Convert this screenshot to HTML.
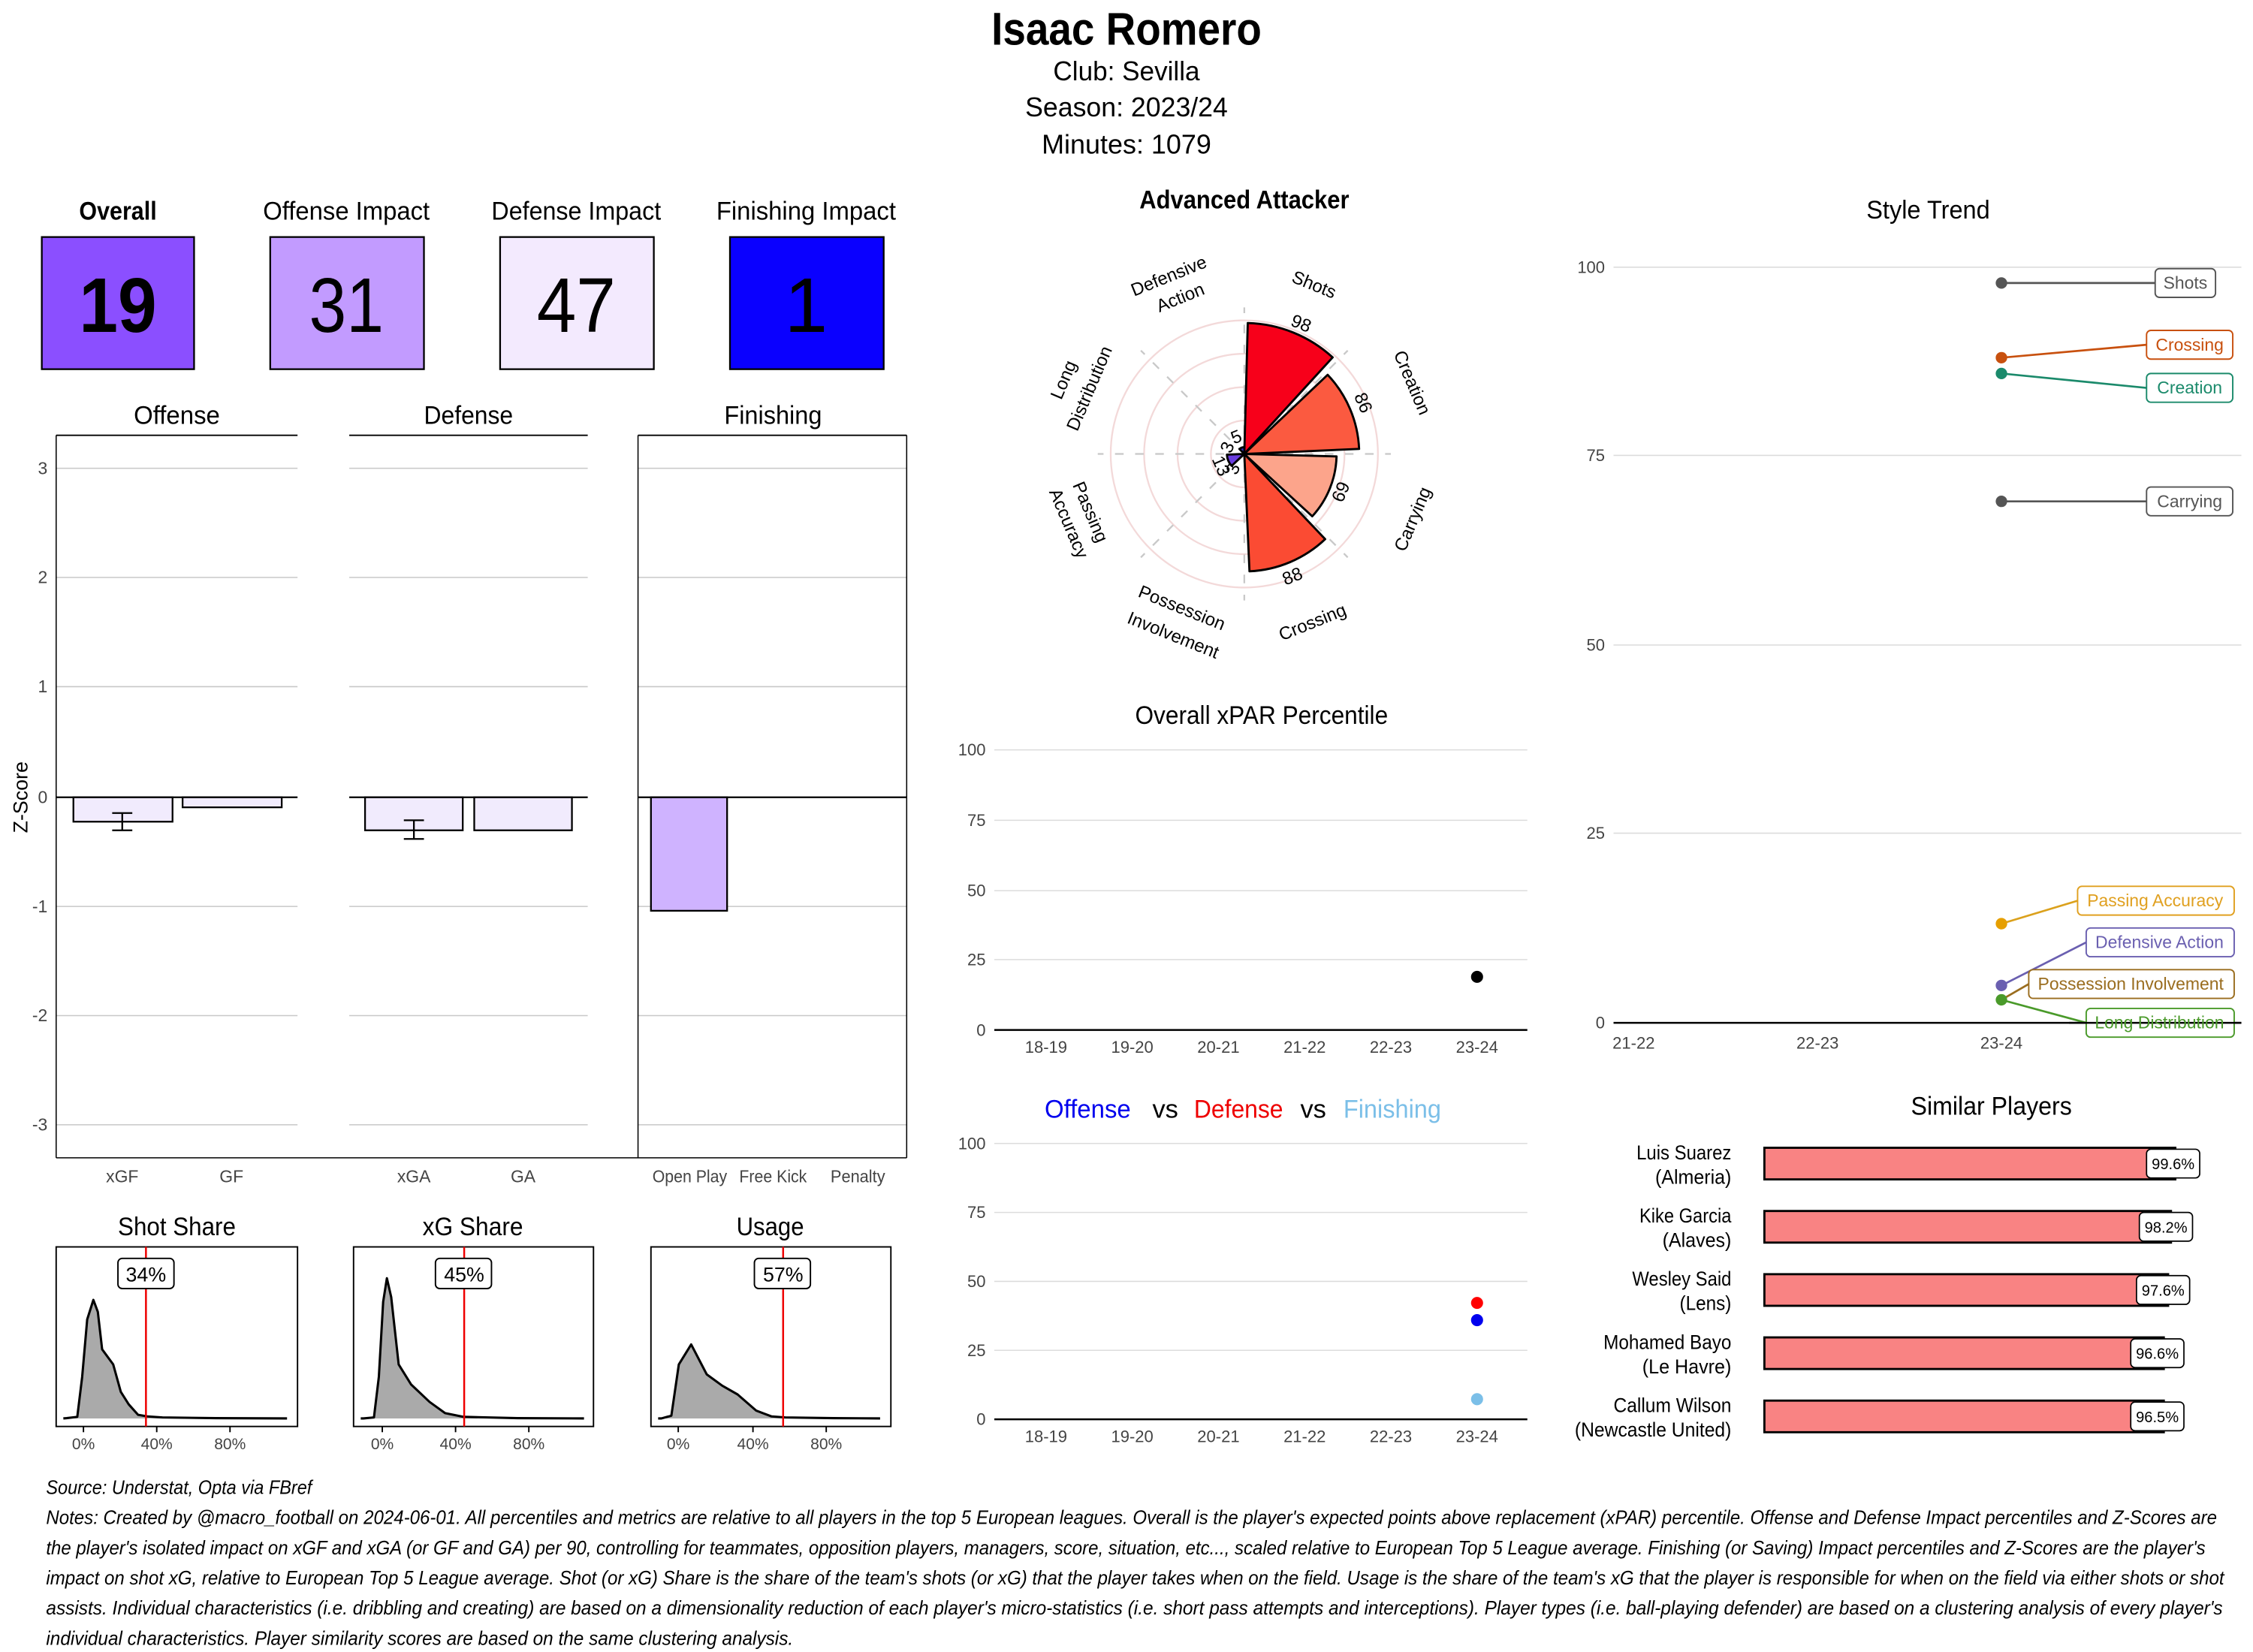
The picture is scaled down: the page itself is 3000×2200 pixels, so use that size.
<!DOCTYPE html>
<html><head><meta charset="utf-8"><style>
html,body{margin:0;padding:0;background:#fff;}
svg{display:block;}
.c{font-family:"Liberation Sans Narrow","Liberation Sans",sans-serif;}
.s{font-family:"Liberation Sans",sans-serif;}
</style></head><body>
<svg width="3000" height="2200" viewBox="0 0 1568 1150" xmlns="http://www.w3.org/2000/svg">
<rect width="1568" height="1150" fill="#fff"/>
<!-- header -->
<g class="c" text-anchor="middle" fill="#000">
<text x="784" y="31" font-size="32" font-weight="bold" textLength="188" lengthAdjust="spacingAndGlyphs">Isaac Romero</text>
<text x="784" y="56" font-size="19" textLength="102" lengthAdjust="spacingAndGlyphs">Club:  Sevilla</text>
<text x="784" y="81" font-size="19" textLength="141" lengthAdjust="spacingAndGlyphs">Season:  2023/24</text>
<text x="784" y="107" font-size="19" textLength="118" lengthAdjust="spacingAndGlyphs">Minutes:  1079</text>
<text x="82" y="153" font-size="18" font-weight="bold" textLength="54" lengthAdjust="spacingAndGlyphs">Overall</text>
<text x="241" y="153" font-size="18" textLength="116" lengthAdjust="spacingAndGlyphs">Offense Impact</text>
<text x="401" y="153" font-size="18" textLength="118" lengthAdjust="spacingAndGlyphs">Defense Impact</text>
<text x="561" y="153" font-size="18" textLength="125" lengthAdjust="spacingAndGlyphs">Finishing Impact</text>
</g>
<rect x="29" y="165" width="106" height="92" fill="#8b4fff" stroke="#000" stroke-width="1.2"/>
<rect x="188" y="165" width="107" height="92" fill="#c29bff" stroke="#000" stroke-width="1.2"/>
<rect x="348" y="165" width="107" height="92" fill="#f3eafe" stroke="#000" stroke-width="1.2"/>
<rect x="508" y="165" width="107" height="92" fill="#0a00ff" stroke="#000" stroke-width="1.2"/>
<g class="c" text-anchor="middle" font-size="54" fill="#000">
<text x="82" y="231" font-weight="bold" textLength="54" lengthAdjust="spacingAndGlyphs">19</text>
<text x="241" y="231" textLength="52" lengthAdjust="spacingAndGlyphs">31</text>
<text x="401" y="231" textLength="55" lengthAdjust="spacingAndGlyphs">47</text>
<text x="561" y="231">1</text>
</g>
<!-- z-score panels -->
<g class="c" font-size="18" text-anchor="middle">
<text x="123" y="295" textLength="60" lengthAdjust="spacingAndGlyphs">Offense</text><text x="326" y="295" textLength="62" lengthAdjust="spacingAndGlyphs">Defense</text><text x="538" y="295" textLength="68" lengthAdjust="spacingAndGlyphs">Finishing</text>
</g>
<g stroke="#c8c8c8" stroke-width="0.8">
<line x1="39" x2="207" y1="326" y2="326"/><line x1="243" x2="409" y1="326" y2="326"/><line x1="444" x2="631" y1="326" y2="326"/>
<line x1="39" x2="207" y1="402" y2="402"/><line x1="243" x2="409" y1="402" y2="402"/><line x1="444" x2="631" y1="402" y2="402"/>
<line x1="39" x2="207" y1="478" y2="478"/><line x1="243" x2="409" y1="478" y2="478"/><line x1="444" x2="631" y1="478" y2="478"/>
<line x1="39" x2="207" y1="631" y2="631"/><line x1="243" x2="409" y1="631" y2="631"/><line x1="444" x2="631" y1="631" y2="631"/>
<line x1="39" x2="207" y1="707" y2="707"/><line x1="243" x2="409" y1="707" y2="707"/><line x1="444" x2="631" y1="707" y2="707"/>
<line x1="39" x2="207" y1="783" y2="783"/><line x1="243" x2="409" y1="783" y2="783"/><line x1="444" x2="631" y1="783" y2="783"/>
</g>
<g fill="#f1ebfd" stroke="#000" stroke-width="1.2">
<rect x="51" y="555" width="69" height="17"/><rect x="127" y="555" width="69" height="7"/>
<rect x="254" y="555" width="68" height="23"/><rect x="330" y="555" width="68" height="23"/>
<rect x="453" y="555" width="53" height="79" fill="#cfb3ff"/>
</g>
<g stroke="#000" stroke-width="1.2">
<line x1="39" x2="207" y1="555" y2="555"/><line x1="243" x2="409" y1="555" y2="555"/><line x1="444" x2="631" y1="555" y2="555"/>
<line x1="85" x2="85" y1="566" y2="578"/><line x1="78" x2="92" y1="566" y2="566"/><line x1="78" x2="92" y1="578" y2="578"/>
<line x1="288" x2="288" y1="571" y2="584"/><line x1="281" x2="295" y1="571" y2="571"/><line x1="281" x2="295" y1="584" y2="584"/>
<line x1="39" x2="207" y1="303" y2="303" stroke-width="1"/><line x1="243" x2="409" y1="303" y2="303" stroke-width="1"/><line x1="444" x2="631" y1="303" y2="303" stroke-width="1"/>
<line x1="39" x2="39" y1="303" y2="806" stroke-width="0.8"/><line x1="631" x2="631" y1="303" y2="806" stroke-width="0.8"/><line x1="444" x2="444" y1="303" y2="806" stroke-width="0.8"/>
<line x1="39" x2="631" y1="806" y2="806" stroke-width="0.8"/>
</g>
<g class="c" font-size="12" fill="#444" text-anchor="end">
<text x="33" y="330">3</text><text x="33" y="406">2</text><text x="33" y="482">1</text><text x="33" y="559">0</text>
<text x="33" y="635">-1</text><text x="33" y="711">-2</text><text x="33" y="787">-3</text>
</g>
<text class="c" font-size="14" transform="translate(19,555) rotate(-90)" text-anchor="middle">Z-Score</text>
<g class="c" font-size="12" fill="#444" text-anchor="middle">
<text x="85" y="823">xGF</text><text x="161" y="823">GF</text><text x="288" y="823">xGA</text><text x="364" y="823">GA</text>
<text x="480" y="823" textLength="52" lengthAdjust="spacingAndGlyphs">Open Play</text><text x="538" y="823" textLength="47" lengthAdjust="spacingAndGlyphs">Free Kick</text><text x="597" y="823" textLength="38" lengthAdjust="spacingAndGlyphs">Penalty</text>
</g>
<!-- density panels -->
<g class="c" font-size="18" text-anchor="middle">
<text x="123" y="860" textLength="82" lengthAdjust="spacingAndGlyphs">Shot Share</text><text x="329" y="860" textLength="70" lengthAdjust="spacingAndGlyphs">xG Share</text><text x="536" y="860" textLength="47" lengthAdjust="spacingAndGlyphs">Usage</text>
</g>
<g fill="#aaa" stroke="#000" stroke-width="1.6" stroke-linejoin="round">
<path d="M44,987.4 L46.3,987.2 L53.7,986.3 L57.1,958.5 L60.6,918.5 L64.9,904.9 L68,913.2 L71,939.3 L78.7,949.8 L84,968.9 L89.5,977.6 L96,984.9 L102.5,986 L113,986.7 L150,987.2 L199.7,987.4"/>
<path d="M251,987.4 L252.9,987.4 L260.2,986.7 L263.6,958.5 L266.6,906.3 L269.2,889.8 L272.2,902.9 L277.4,949.8 L286,963.7 L298.9,975.9 L309.7,983.7 L322.6,986.3 L360,987.2 L406.4,987.4"/>
<path d="M458,987.4 L460.3,987.4 L467.2,985.5 L472.4,949.8 L481,935.9 L491.8,956.7 L502.6,964.6 L513.3,970.7 L526.3,982 L537,986 L546.5,986.7 L580,987.2 L612.5,987.4"/>
</g>
<g fill="none" stroke="#000" stroke-width="1">
<rect x="39" y="868" width="168" height="125"/><rect x="246" y="868" width="167" height="125"/><rect x="453" y="868" width="167" height="125"/>
<line x1="58" x2="58" y1="993" y2="997"/><line x1="109" x2="109" y1="993" y2="997"/><line x1="160" x2="160" y1="993" y2="997"/>
<line x1="266" x2="266" y1="993" y2="997"/><line x1="317" x2="317" y1="993" y2="997"/><line x1="368" x2="368" y1="993" y2="997"/>
<line x1="472" x2="472" y1="993" y2="997"/><line x1="524" x2="524" y1="993" y2="997"/><line x1="575" x2="575" y1="993" y2="997"/>
</g>
<g stroke="#e00" stroke-width="1.3">
<line x1="101.5" x2="101.5" y1="868" y2="993"/><line x1="323" x2="323" y1="868" y2="993"/><line x1="545" x2="545" y1="868" y2="993"/>
</g>
<g fill="#fff" stroke="#000" stroke-width="1">
<rect x="82" y="876" width="39" height="21" rx="3"/><rect x="303" y="876" width="39" height="21" rx="3"/><rect x="525" y="876" width="39" height="21" rx="3"/>
</g>
<g class="c" font-size="14" text-anchor="middle">
<text x="101.5" y="892">34%</text><text x="323" y="892">45%</text><text x="545" y="892">57%</text>
</g>
<g class="c" font-size="11" fill="#444" text-anchor="middle">
<text x="58" y="1009">0%</text><text x="109" y="1009">40%</text><text x="160" y="1009">80%</text>
<text x="266" y="1009">0%</text><text x="317" y="1009">40%</text><text x="368" y="1009">80%</text>
<text x="472" y="1009">0%</text><text x="524" y="1009">40%</text><text x="575" y="1009">80%</text>
</g>
<!-- polar -->
<text class="c" x="866" y="145" font-size="18" font-weight="bold" text-anchor="middle" textLength="146" lengthAdjust="spacingAndGlyphs">Advanced Attacker</text>
<g fill="none" stroke="#f3d9d9" stroke-width="1.2">
<circle cx="866" cy="316" r="23.25"/><circle cx="866" cy="316" r="46.5"/><circle cx="866" cy="316" r="69.75"/><circle cx="866" cy="316" r="93"/>
</g>
<g stroke="#c8c8c8" stroke-width="1.2" stroke-dasharray="6,8">
<line x1="866" y1="316" x2="866" y2="214"/><line x1="866" y1="316" x2="866" y2="418"/>
<line x1="866" y1="316" x2="764" y2="316"/><line x1="866" y1="316" x2="968" y2="316"/>
<line x1="866" y1="316" x2="938" y2="244"/><line x1="866" y1="316" x2="794" y2="244"/>
<line x1="866" y1="316" x2="938" y2="388"/><line x1="866" y1="316" x2="794" y2="388"/>
</g>
<g stroke="#000" stroke-width="1.5" stroke-linejoin="round">
<path d="M866,316 L868.4,224.9 A91.1,91.1 0 0 1 927.5,248.8 Z" fill="#f7001a"/>
<path d="M866,316 L924,260.9 A80,80 0 0 1 945.9,312.5 Z" fill="#fb5a40"/>
<path d="M866,316 L930.2,317.7 A64.2,64.2 0 0 1 913.3,359.4 Z" fill="#fca48b"/>
<path d="M866,316 L922.3,375.3 A81.8,81.8 0 0 1 869.6,397.7 Z" fill="#fb4b33"/>
<path d="M866,316 L857.2,324.3 A12.1,12.1 0 0 1 853.9,316.5 Z" fill="#6a3de0"/>
<path d="M866,316 L862.6,312.6 A4.7,4.7 0 0 1 866.1,311.3 Z" fill="#3030c0"/>
</g>
<g class="s" font-size="12.5" text-anchor="middle">
<text transform="translate(913,202) rotate(22)">Shots</text>
<text transform="translate(979,268) rotate(67)">Creation</text>
<text transform="translate(987,363) rotate(-67)">Carrying</text>
<text transform="translate(915,437) rotate(-22)">Crossing</text>
<text transform="translate(821,427) rotate(22)">Possession</text>
<text transform="translate(815,446) rotate(22)">Involvement</text>
<text transform="translate(755,358) rotate(67)">Passing</text>
<text transform="translate(740,366) rotate(67)">Accuracy</text>
<text transform="translate(744,266) rotate(-67)">Long</text>
<text transform="translate(762,272) rotate(-67)">Distribution</text>
<text transform="translate(815,196) rotate(-22)">Defensive</text>
<text transform="translate(823,211) rotate(-22)">Action</text>
<text transform="translate(904,229) rotate(22)">98</text>
<text transform="translate(945,282) rotate(67)">86</text>
<text transform="translate(937,344) rotate(-67)">69</text>
<text transform="translate(901,405) rotate(-22)">88</text>
<text transform="translate(862,308) rotate(-22)">5</text>
<text transform="translate(858,313) rotate(-67)">3</text>
<text transform="translate(846,326) rotate(67)">13</text>
<text transform="translate(862,328) rotate(-67)">3</text>
</g>
<!-- overall xPAR -->
<text class="c" x="878" y="504" font-size="18" text-anchor="middle" textLength="176" lengthAdjust="spacingAndGlyphs">Overall xPAR Percentile</text>
<g stroke="#dcdcdc" stroke-width="0.8">
<line x1="692" x2="1063" y1="522" y2="522"/><line x1="692" x2="1063" y1="571" y2="571"/><line x1="692" x2="1063" y1="620" y2="620"/><line x1="692" x2="1063" y1="668" y2="668"/>
<line x1="692" x2="1063" y1="796" y2="796"/><line x1="692" x2="1063" y1="844" y2="844"/><line x1="692" x2="1063" y1="892" y2="892"/><line x1="692" x2="1063" y1="940" y2="940"/>
</g>
<line x1="692" x2="1063" y1="717" y2="717" stroke="#000" stroke-width="1.3"/>
<line x1="692" x2="1063" y1="988" y2="988" stroke="#000" stroke-width="1.3"/>
<g class="s" font-size="11.5" fill="#444" text-anchor="end">
<text x="686" y="526">100</text><text x="686" y="575">75</text><text x="686" y="624">50</text><text x="686" y="672">25</text><text x="686" y="721">0</text>
<text x="686" y="800">100</text><text x="686" y="848">75</text><text x="686" y="896">50</text><text x="686" y="944">25</text><text x="686" y="992">0</text>
</g>
<g class="s" font-size="11.5" fill="#444" text-anchor="middle">
<text x="728" y="733">18-19</text><text x="788" y="733">19-20</text><text x="848" y="733">20-21</text><text x="908" y="733">21-22</text><text x="968" y="733">22-23</text><text x="1028" y="733">23-24</text>
<text x="728" y="1004">18-19</text><text x="788" y="1004">19-20</text><text x="848" y="1004">20-21</text><text x="908" y="1004">21-22</text><text x="968" y="1004">22-23</text><text x="1028" y="1004">23-24</text>
</g>
<circle cx="1028" cy="680" r="4.2" fill="#000"/>
<g class="c" font-size="18" text-anchor="middle">
<text x="757" y="778" fill="#0000ee" textLength="60" lengthAdjust="spacingAndGlyphs">Offense</text><text x="811" y="778">vs</text>
<text x="862" y="778" fill="#ee0000" textLength="62" lengthAdjust="spacingAndGlyphs">Defense</text><text x="914" y="778">vs</text>
<text x="969" y="778" fill="#7bbfe8" textLength="68" lengthAdjust="spacingAndGlyphs">Finishing</text>
</g>
<circle cx="1028" cy="907" r="4.2" fill="#f00"/>
<circle cx="1028" cy="919" r="4.2" fill="#00e"/>
<circle cx="1028" cy="974" r="4.2" fill="#7bbfe8"/>
<!-- style trend -->
<text class="c" x="1342" y="152" font-size="18" text-anchor="middle" textLength="86" lengthAdjust="spacingAndGlyphs">Style Trend</text>
<g stroke="#dcdcdc" stroke-width="0.8">
<line x1="1123" x2="1560" y1="186" y2="186"/><line x1="1123" x2="1560" y1="317" y2="317"/><line x1="1123" x2="1560" y1="449" y2="449"/><line x1="1123" x2="1560" y1="580" y2="580"/>
</g>
<line x1="1123" x2="1560" y1="712" y2="712" stroke="#000" stroke-width="1.3"/>
<g class="s" font-size="11.5" fill="#444" text-anchor="end">
<text x="1117" y="190">100</text><text x="1117" y="321">75</text><text x="1117" y="453">50</text><text x="1117" y="584">25</text><text x="1117" y="716">0</text>
</g>
<g class="s" font-size="11.5" fill="#444" text-anchor="middle">
<text x="1137" y="730">21-22</text><text x="1265" y="730">22-23</text><text x="1393" y="730">23-24</text>
</g>
<g stroke-width="1.4" fill="none">
<line x1="1393" y1="197" x2="1500" y2="197" stroke="#555"/>
<line x1="1393" y1="249" x2="1494" y2="240" stroke="#c8500e"/>
<line x1="1393" y1="260" x2="1494" y2="270" stroke="#1b8a6b"/>
<line x1="1393" y1="349" x2="1494" y2="349" stroke="#555"/>
<line x1="1393" y1="643" x2="1446" y2="627" stroke="#dba11c"/>
<line x1="1393" y1="686" x2="1452" y2="656" stroke="#6a5fb0"/>
<line x1="1393" y1="696" x2="1412" y2="685" stroke="#9a6d1f"/>
<line x1="1393" y1="696" x2="1452" y2="712" stroke="#4a9a2a"/>
</g>
<g>
<circle cx="1393" cy="197" r="4" fill="#555"/>
<circle cx="1393" cy="249" r="4" fill="#c8500e"/>
<circle cx="1393" cy="260" r="4" fill="#1b8a6b"/>
<circle cx="1393" cy="349" r="4" fill="#555"/>
<circle cx="1393" cy="643" r="4" fill="#e69f00"/>
<circle cx="1393" cy="686" r="4" fill="#6a5fb0"/>
<circle cx="1393" cy="696" r="4" fill="#4a9a2a"/>
</g>
<g fill="#fff" stroke-width="1">
<rect x="1500" y="187" width="42" height="20" rx="3" stroke="#555"/>
<rect x="1494" y="230" width="60" height="20" rx="3" stroke="#c8500e"/>
<rect x="1494" y="260" width="60" height="20" rx="3" stroke="#1b8a6b"/>
<rect x="1494" y="339" width="60" height="20" rx="3" stroke="#555"/>
<rect x="1446" y="617" width="109" height="20" rx="3" stroke="#e0a020"/>
<rect x="1452" y="646" width="103" height="20" rx="3" stroke="#6a5fb0"/>
<rect x="1412" y="675" width="143" height="20" rx="3" stroke="#9a6d1f"/>
<rect x="1452" y="702" width="103" height="20" rx="3" stroke="#4a9a2a"/>
</g>
<line x1="1440" x2="1560" y1="712" y2="712" stroke="#000" stroke-width="1.3"/>
<g class="s" font-size="12" text-anchor="middle">
<text x="1521" y="201" fill="#555">Shots</text>
<text x="1524" y="244" fill="#c8500e">Crossing</text>
<text x="1524" y="274" fill="#1b8a6b">Creation</text>
<text x="1524" y="353" fill="#555">Carrying</text>
<text x="1500" y="631" fill="#e0a020">Passing Accuracy</text>
<text x="1503" y="660" fill="#6a5fb0">Defensive Action</text>
<text x="1483" y="689" fill="#9a6d1f">Possession Involvement</text>
<text x="1503" y="716" fill="#4a9a2a">Long Distribution</text>
</g>
<!-- similar players -->
<text class="c" x="1386" y="776" font-size="18" text-anchor="middle" textLength="112" lengthAdjust="spacingAndGlyphs">Similar Players</text>
<g fill="#f98383" stroke="#000" stroke-width="1.5">
<rect x="1228" y="799" width="286" height="22"/>
<rect x="1228" y="843" width="283" height="22"/>
<rect x="1228" y="887" width="281" height="22"/>
<rect x="1228" y="931" width="278" height="22"/>
<rect x="1228" y="975" width="278" height="22"/>
</g>
<g fill="#fff" stroke="#000" stroke-width="0.9">
<rect x="1494" y="800" width="37" height="20" rx="3"/>
<rect x="1489" y="844" width="37" height="20" rx="3"/>
<rect x="1487" y="888" width="37" height="20" rx="3"/>
<rect x="1483" y="932" width="37" height="20" rx="3"/>
<rect x="1483" y="976" width="37" height="20" rx="3"/>
</g>
<g class="s" font-size="10.5" text-anchor="middle">
<text x="1512.5" y="814">99.6%</text><text x="1507.5" y="858">98.2%</text><text x="1505.5" y="902">97.6%</text><text x="1501.5" y="946">96.6%</text><text x="1501.5" y="990">96.5%</text>
</g>
<g class="c" font-size="14" text-anchor="end">
<text x="1205" y="807" textLength="66" lengthAdjust="spacingAndGlyphs">Luis Suarez</text><text x="1205" y="824" textLength="53" lengthAdjust="spacingAndGlyphs">(Almeria)</text>
<text x="1205" y="851" textLength="64" lengthAdjust="spacingAndGlyphs">Kike Garcia</text><text x="1205" y="868" textLength="48" lengthAdjust="spacingAndGlyphs">(Alaves)</text>
<text x="1205" y="895" textLength="69" lengthAdjust="spacingAndGlyphs">Wesley Said</text><text x="1205" y="912" textLength="36" lengthAdjust="spacingAndGlyphs">(Lens)</text>
<text x="1205" y="939" textLength="89" lengthAdjust="spacingAndGlyphs">Mohamed Bayo</text><text x="1205" y="956" textLength="62" lengthAdjust="spacingAndGlyphs">(Le Havre)</text>
<text x="1205" y="983" textLength="82" lengthAdjust="spacingAndGlyphs">Callum Wilson</text><text x="1205" y="1000" textLength="109" lengthAdjust="spacingAndGlyphs">(Newcastle United)</text>
</g>
<!-- notes -->
<g class="c" font-size="13.5" font-style="italic">
<text x="32" y="1040" textLength="185" lengthAdjust="spacingAndGlyphs">Source: Understat, Opta via FBref</text>
<text x="32" y="1061" textLength="1511" lengthAdjust="spacingAndGlyphs">Notes: Created by @macro_football on 2024-06-01. All percentiles and metrics are relative to all players in the top 5 European leagues. Overall is the player's expected points above replacement (xPAR) percentile. Offense and Defense Impact percentiles and Z-Scores are</text>
<text x="32" y="1082" textLength="1503" lengthAdjust="spacingAndGlyphs">the player's isolated impact on xGF and xGA (or GF and GA) per 90, controlling for teammates, opposition players, managers, score, situation, etc..., scaled relative to European Top 5 League average. Finishing (or Saving) Impact percentiles and Z-Scores are the player's</text>
<text x="32" y="1103" textLength="1516" lengthAdjust="spacingAndGlyphs">impact on shot xG, relative to European Top 5 League average. Shot (or xG) Share is the share of the team's shots (or xG) that the player takes when on the field. Usage is the share of the team's xG that the player is responsible for when on the field via either shots or shot</text>
<text x="32" y="1124" textLength="1515" lengthAdjust="spacingAndGlyphs">assists. Individual characteristics (i.e. dribbling and creating) are based on a dimensionality reduction of each player's micro-statistics (i.e. short pass attempts and interceptions). Player types (i.e. ball-playing defender) are based on a clustering analysis of every player's</text>
<text x="32" y="1145" textLength="520" lengthAdjust="spacingAndGlyphs">individual characteristics. Player similarity scores are based on the same clustering analysis.</text>
</g>
</svg>
</body></html>
